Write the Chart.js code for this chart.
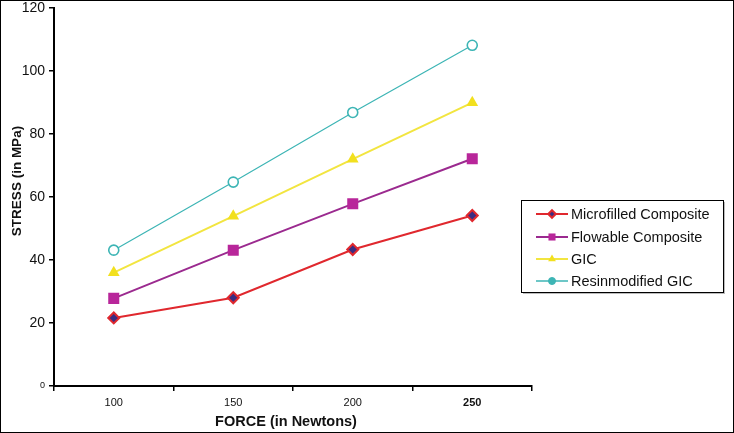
<!DOCTYPE html>
<html>
<head>
<meta charset="utf-8">
<script src="https://cdn.jsdelivr.net/npm/chart.js@4/dist/chart.umd.min.js"></script>
<style>
html,body{margin:0;padding:0;background:#fff;}
canvas{display:block;}
</style>
</head>
<body>
<canvas id="c" width="734" height="433"></canvas>
<script>
const categories = ['100', '150', '200', '250'];
const microfilled = [21.6, 28.0, 43.3, 54.1];
const flowable = [27.8, 43.1, 57.8, 72.1];
const gic = [36.0, 53.9, 72.0, 89.9];
const resinGic = [43.1, 64.7, 86.8, 108.1];
const seriesNames = ['Microfilled Composite', 'Flowable Composite', 'GIC', 'Resinmodified GIC'];
const yTicks = [0, 20, 40, 60, 80, 100, 120];
const xTitle = 'FORCE (in Newtons)';
const yTitle = 'STRESS (in MPa)';

const FONT = '"Liberation Sans", Arial, Helvetica, sans-serif';

function drawMarker(ctx, style, x, y, r, fill, stroke, bw) {
  ctx.save();
  ctx.fillStyle = fill; ctx.strokeStyle = stroke; ctx.lineWidth = bw;
  ctx.beginPath();
  if (style === 'rectRot') {
    ctx.moveTo(x, y - r); ctx.lineTo(x + r, y); ctx.lineTo(x, y + r); ctx.lineTo(x - r, y); ctx.closePath();
  } else if (style === 'rect') {
    const s = Math.SQRT1_2 * r; ctx.rect(x - s, y - s, 2 * s, 2 * s);
  } else if (style === 'triangle') {
    const a = Math.PI * 2 / 3;
    ctx.moveTo(x, y - r);
    ctx.lineTo(x + Math.sin(a) * r, y - Math.cos(a) * r);
    ctx.lineTo(x - Math.sin(a) * r, y - Math.cos(a) * r);
    ctx.closePath();
  } else {
    ctx.arc(x, y, r, 0, Math.PI * 2);
  }
  ctx.fill();
  if (bw > 0) ctx.stroke();
  ctx.restore();
}

const customPlugin = {
  id: 'custom',
  afterDraw(chart) {
    const ctx = chart.ctx;
    ctx.save();
    // axis titles
    ctx.fillStyle = '#111';
    ctx.textAlign = 'center';
    ctx.textBaseline = 'middle';
    ctx.font = 'bold 14.5px ' + FONT;
    ctx.fillText(xTitle, 286, 422);
    ctx.save();
    ctx.translate(17, 181);
    ctx.rotate(-Math.PI / 2);
    ctx.font = 'bold 13.5px ' + FONT;
    ctx.fillText(yTitle, 0, 0);
    ctx.restore();

    // legend box
    ctx.fillStyle = '#bbb';
    ctx.fillRect(523, 202, 202, 92);
    ctx.fillStyle = '#fff';
    ctx.fillRect(521, 200, 202, 92);
    ctx.strokeStyle = '#000';
    ctx.lineWidth = 1;
    ctx.strokeRect(521.5, 200.5, 202, 92);
    const ys = [214, 237, 259, 281];
    const legendSizes = [3.8, 5, 4.5, 3.5];
    chart.data.datasets.forEach((ds, i) => {
      const y = ys[i];
      ctx.strokeStyle = ds.borderColor;
      ctx.lineWidth = Math.max(ds.borderWidth, 1.5);
      ctx.beginPath(); ctx.moveTo(536, y); ctx.lineTo(568, y); ctx.stroke();
      drawMarker(ctx, ds.pointStyle, 552, y, legendSizes[i],
        i === 3 ? ds.borderColor : ds.pointBackgroundColor, ds.pointBorderColor, i === 3 ? 1 : ds.pointBorderWidth);
      ctx.fillStyle = '#111';
      ctx.textAlign = 'left';
      ctx.textBaseline = 'middle';
      ctx.font = '14.5px ' + FONT;
      ctx.fillText(ds.label, 571, y + 1);
    });

    // outer frame
    ctx.strokeStyle = '#000';
    ctx.lineWidth = 1;
    ctx.strokeRect(0.5, 0.5, 733, 432);
    ctx.restore();
  }
};

new Chart(document.getElementById('c'), {
  type: 'line',
  data: {
    labels: categories,
    datasets: [
      { label: seriesNames[0], data: microfilled, borderColor: '#e0282e', borderWidth: 2,
        pointStyle: 'rectRot', pointRadius: 5.5, pointBackgroundColor: '#3b2c82', pointBorderColor: '#e0282e', pointBorderWidth: 2 },
      { label: seriesNames[1], data: flowable, borderColor: '#9b2a8f', borderWidth: 2,
        pointStyle: 'rect', pointRadius: 7.8, pointBackgroundColor: '#b8269a', pointBorderColor: '#b8269a', pointBorderWidth: 0 },
      { label: seriesNames[2], data: gic, borderColor: '#f2e540', borderWidth: 2,
        pointStyle: 'triangle', pointRadius: 6.8, pointBackgroundColor: '#f2e01e', pointBorderColor: '#f2e01e', pointBorderWidth: 0 },
      { label: seriesNames[3], data: resinGic, borderColor: '#3db5b5', borderWidth: 1.2,
        pointStyle: 'circle', pointRadius: 5, pointBackgroundColor: '#ffffff', pointBorderColor: '#3db5b5', pointBorderWidth: 1.6 }
    ]
  },
  options: {
    responsive: false,
    devicePixelRatio: 1,
    animation: false,
    layout: { padding: { left: 0, right: 202, top: 5, bottom: 0 } },
    plugins: { legend: { display: false }, tooltip: { enabled: false } },
    elements: { line: { tension: 0 } },
    scales: {
      x: {
        type: 'category',
        offset: true,
        grid: { display: true, drawOnChartArea: false, drawTicks: true, tickLength: 5, offset: true, color: '#000', lineWidth: 1.5 },
        border: { display: true, color: '#000', width: 2 },
        ticks: {
          color: '#111', padding: 5,
          font: (c) => ({ family: FONT, size: 11, weight: c.index === 3 ? 'bold' : 'normal' })
        },
        afterFit(s) { s.height = 47; s.paddingLeft = 0; s.paddingRight = 0; }
      },
      y: {
        min: 0, max: 120,
        afterBuildTicks(s) { s.ticks = yTicks.map(v => ({ value: v })); },
        grid: { display: true, drawOnChartArea: false, drawTicks: true, tickLength: 5, color: '#000', lineWidth: 1.5 },
        border: { display: true, color: '#000', width: 2 },
        ticks: {
          color: '#111', padding: 4,
          font: (c) => ({ family: FONT, size: (c.tick && c.tick.value === 0) ? 9 : 14 })
        },
        afterFit(s) { s.width = 54; s.paddingTop = 0; s.paddingBottom = 0; }
      }
    }
  },
  plugins: [customPlugin]
});
</script>
</body>
</html>
